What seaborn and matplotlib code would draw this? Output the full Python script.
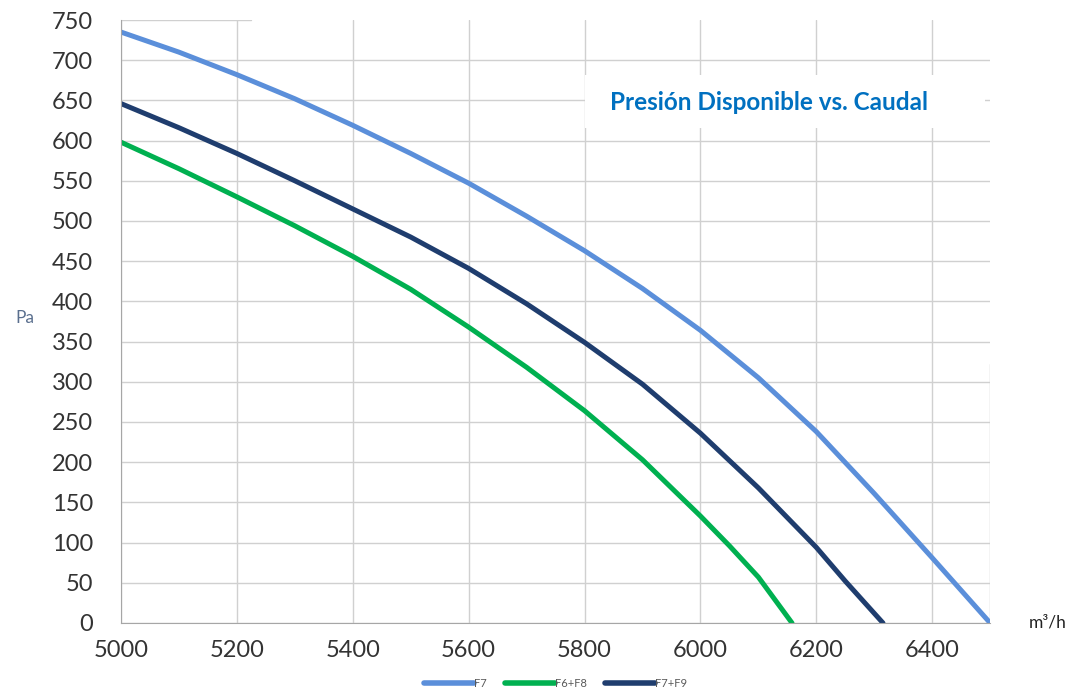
import pandas as pd
import numpy as np
import matplotlib.pyplot as plt
import seaborn as sns
from matplotlib.patches import Rectangle

## caudal (m3/h) and presion (Pa)
caudal_f7 = [5000, 5100, 5200, 5300, 5400, 5500, 5600, 5700, 5800, 5900, 6000, 6100, 6200, 6300, 6400, 6500]
pres_f7 = [735, 710, 682, 652, 619, 584, 547, 506, 463, 416, 364, 305, 238, 161, 81, 0]

caudal_f6f8 = [5000, 5100, 5200, 5300, 5400, 5500, 5600, 5700, 5800, 5900, 6000, 6050, 6100, 6158]
pres_f6f8 = [598, 565, 530, 494, 456, 415, 368, 318, 264, 203, 133, 96, 57, 0]

caudal_f7f9 = [5000, 5100, 5200, 5300, 5400, 5500, 5600, 5700, 5800, 5900, 6000, 6100, 6200, 6250, 6315]
pres_f7f9 = [646, 616, 584, 550, 515, 480, 441, 397, 349, 297, 236, 168, 94, 52, 0]

series = ["F7", "F6+F8", "F7+F9"]
colores = ["#5B8FDA", "#00B050", "#1F3D6E"]

frames = []
for name, xs, ys in [("F7", caudal_f7, pres_f7), ("F6+F8", caudal_f6f8, pres_f6f8), ("F7+F9", caudal_f7f9, pres_f7f9)]:
    frames.append(pd.DataFrame({"caudal": xs, "presion": ys, "filtro": name}))
data = pd.concat(frames, ignore_index=True)

sns.set_style("white")
plt.rcParams['font.family'] = ['Lato', 'DejaVu Sans']

fig = plt.figure(figsize=(10.73, 6.97), dpi=100)
ax = fig.add_axes([0.1128, 0.1062, 0.81, 0.8651])

sns.lineplot(data=data, x="caudal", y="presion", hue="filtro", hue_order=series,
             palette=colores, linewidth=3.6, sort=False, estimator=None, ax=ax)
for l in ax.get_lines():
    l.set_solid_joinstyle("round")

ax.set_xlim(5000, 6500)
ax.set_ylim(0, 750)
ax.set_xticks(range(5000, 6501, 200))
ax.set_yticks(range(0, 751, 50))
ax.grid(True, color="#D0D0D0", linewidth=1)
ax.set_axisbelow(True)
# the picture shows only part of the top and right grid lines
ax.get_ygridlines()[-1].set_visible(False)
ax.axhline(ax.get_ylim()[1], xmin=0, xmax=0.15, color="#D0D0D0", linewidth=1, zorder=0)
ax.axvline(ax.get_xlim()[1], ymin=0, ymax=0.43, color="#C8C8C8", linewidth=1, zorder=0)
for s in ["top", "right"]:
    ax.spines[s].set_visible(False)
ax.spines["left"].set_color("#A6A6A6")
ax.spines["bottom"].set_color("#A6A6A6")
ax.tick_params(axis="both", labelsize=17, labelcolor="#333333", color="#A6A6A6",
               length=8, width=1, direction="out")
ax.tick_params(axis="y", pad=12)
ax.tick_params(axis="x", pad=4)
ax.set_xlabel("")
ax.set_ylabel("")

fig.text(0.023, 0.544, "Pa", fontsize=12.5, color="#5A6F8E", ha="center", va="center")
fig.text(0.976, 0.107, "m³/h", fontsize=12.5, color="#222222", ha="center", va="center")

ax.add_patch(Rectangle((0.534, 0.821), 0.46, 0.088, transform=ax.transAxes,
                       facecolor="white", edgecolor="none", zorder=3))
ax.text(0.563, 0.864, "Presión Disponible vs. Caudal", transform=ax.transAxes,
        fontsize=17.5, fontweight="bold", color="#0070C0", va="center", ha="left", zorder=4)

leg = ax.legend(loc="upper center", bbox_to_anchor=(0.5, -0.075), ncol=3, frameon=False,
                fontsize=8, handlelength=4.5, handletextpad=0.0, columnspacing=1.6)
for t in leg.get_texts():
    t.set_color("#595959")
for l in leg.get_lines():
    l.set_linewidth(4)

fig.savefig("out.png", dpi=100)
